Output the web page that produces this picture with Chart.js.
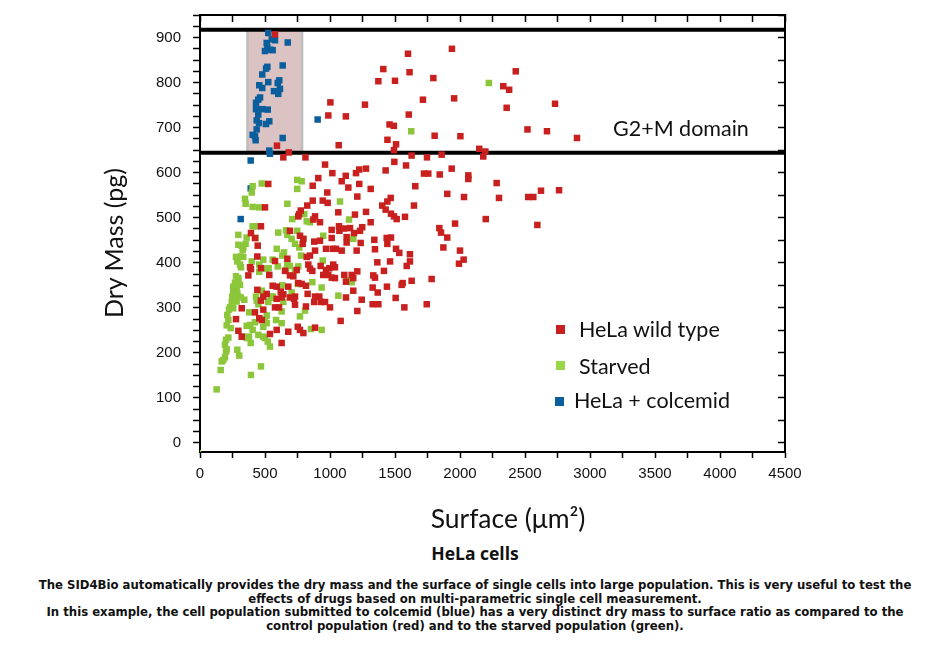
<!DOCTYPE html>
<html>
<head>
<meta charset="utf-8">
<script src="https://cdn.jsdelivr.net/npm/chart.js@4.4.1/dist/chart.umd.min.js"></script>
<style>
  body { margin: 0; background: #fff; width: 950px; height: 650px; overflow: hidden; position: relative; }
  #wrap { position: absolute; left: 0; top: 0; width: 950px; height: 540px; }
  .txt { position: absolute; font-family: Lato, "Open Sans", sans-serif; font-size: 21.5px; line-height: 26px; color: #111; white-space: nowrap; }
  .sq { position: absolute; width: 9px; height: 9px; }
  .axt { position: absolute; width: 300px; height: 30px; line-height: 30px; text-align: center; font-family: Lato, "Open Sans", sans-serif; color: #111; white-space: nowrap; }
  #ytitle { left: -37px; top: 228px; font-size: 25px; transform: rotate(-90deg); }
  #xtitle { left: 358px; top: 503px; font-size: 26.5px; }
  #title { position: absolute; left: 0; width: 950px; top: 543px; text-align: center; font-family: "Open Sans", sans-serif; font-weight: 700; font-size: 17.5px; line-height: 20px; color: #111; }
  #caption { position: absolute; left: 0; width: 950px; top: 578px; text-align: center; font-family: "DejaVu Sans Condensed", "DejaVu Sans", sans-serif; font-weight: 700; font-size: 13px; line-height: 13.7px; color: #111; }
</style>
</head>
<body>
<div id="wrap"><canvas id="chart"></canvas></div>

<div class="axt" id="ytitle">Dry Mass (pg)</div>
<div class="axt" id="xtitle">Surface (μm²)</div>

<div class="sq" style="left:556px;top:325px;background:#c8201e"></div>
<div class="txt" style="left:579px;top:316px">HeLa wild type</div>
<div class="sq" style="left:556px;top:361px;background:#98d848"></div>
<div class="txt" style="left:579px;top:353px">Starved</div>
<div class="sq" style="left:555px;top:397px;background:#0b5e9c"></div>
<div class="txt" style="left:574px;top:387px">HeLa + colcemid</div>
<div class="txt" style="left:613px;top:115px">G2+M domain</div>

<div id="title">HeLa cells</div>
<div id="caption">The SID4Bio automatically provides the dry mass and the surface of single cells into large population. This is very useful to test the<br>effects of drugs based on multi-parametric single cell measurement.<br>In this example, the cell population submitted to colcemid (blue) has a very distinct dry mass to surface ratio as compared to the<br>control population (red) and to the starved population (green).</div>

<script>
// tick labels
const xTickLabels = [0, 500, 1000, 1500, 2000, 2500, 3000, 3500, 4000, 4500];
const yTickLabels = [0, 100, 200, 300, 400, 500, 600, 700, 800, 900];

// G2+M domain (dry mass limits) and the colcemid box (surface limits)
const domainMass = [644, 917];
const boxSurface = [365, 785];

// [surface, dry mass]
const wildType = [
  [577,907],[1600,864],[1938,875],[1410,830],[1612,823],[2429,825],[1372,803],[1500,804],[1795,810],[2333,792],
  [2378,784],[1003,756],[1269,751],[1715,762],[1955,765],[2359,744],[2731,753],[987,727],[1122,725],[1606,729],
  [1458,707],[1491,704],[1805,682],[2003,681],[2519,696],[2669,692],[2900,677],[1442,673],[1508,663],[1492,650],
  [1067,661],[592,660],[683,645],[641,634],[811,634],[1628,638],[1746,634],[1859,640],[2148,653],[2195,647],[2179,636],
  [1495,624],[1585,616],[1428,605],[1277,609],[1225,607],[1200,599],[1723,598],[1756,598],[1844,596],[1936,609],
  [2064,594],[2064,586],[2282,577],[1225,575],[1313,564],[1656,570],[1210,547],[1902,553],[2031,546],[2300,544],
  [1467,544],[1441,536],[1402,527],[1428,518],[1646,527],[1277,513],[1469,509],[1492,503],[1513,497],[1577,502],
  [1313,490],[1248,479],[1231,471],[1192,507],[1841,477],[1854,467],[1962,487],[2198,497],[1902,456],[1872,434],
  [2000,427],[2028,407],[1992,398],[1436,455],[1469,456],[1341,451],[1236,444],[1441,442],[1508,431],[1533,422],
  [1346,430],[1205,427],[1615,419],[1615,403],[1590,393],[1462,403],[1364,401],[1415,382],[1210,381],[1333,372],
  [1346,367],[1559,355],[1551,351],[1628,360],[1782,364],[1328,345],[1367,334],[1438,347],[1505,322],[1244,318],
  [1744,308],[1572,301],[1372,308],[1328,308],[1210,293],[1082,271],[1123,323],[1179,338],
  [2525,546],[2564,546],[2623,560],[2762,561],[2595,484],
  [962,618],[1018,599],[910,588],[867,571],[1121,593],[1090,581],[1141,567],[979,556],[525,575],[867,538],
  [944,538],[982,533],[825,527],[775,516],[762,508],[756,503],[885,503],[872,496],[923,490],[1064,512],
  [500,523],[469,481],[392,466],[423,455],[444,438],[692,471],[769,460],[795,453],[879,447],[923,449],
  [1013,473],[1069,481],[1072,471],[1128,457],[1108,476],[1154,477],[1185,466],[1013,455],[790,442],[969,431],
  [1021,431],[1046,431],[1090,427],[1128,445],[885,427],[821,413],[846,416],[833,396],[672,409],[577,404],
  [441,414],[385,390],[392,386],[469,388],[533,373],[372,372],[744,384],[654,382],[846,387],[864,382],
  [928,393],[969,384],[995,388],[1025,396],[1038,390],[948,373],[987,373],[1013,367],[1110,373],[1038,366],
  [1167,373],[1179,366],[692,372],[718,370],[756,355],[782,353],[559,349],[590,347],[621,336],[641,330],
  [441,340],[513,331],[679,347],[815,349],[828,331],[885,325],[731,325],[1123,358],
  [277,275],[321,299],[423,290],[487,296],[456,277],[475,273],[469,316],[487,325],[590,320],[628,323],
  [608,301],[577,301],[692,323],[723,320],[731,307],[815,303],[879,313],[931,313],[962,313],[1000,301],
  [918,325],[752,258],[769,251],[795,244],[590,251],[679,247],[295,249],[538,242],[321,236],[885,256],[628,222]
];

const starved = [
  [2222,799],[1625,692],[475,576],[405,570],[398,556],[748,584],[782,581],[748,564],[346,542],[351,531],
  [405,524],[456,523],[672,531],[1077,536],[710,497],[802,508],[821,492],[846,490],[1146,496],[405,481],
  [436,481],[295,462],[359,456],[428,455],[602,467],[662,472],[672,462],[748,471],[705,453],[795,453],
  [948,460],[1179,453],[295,440],[321,438],[333,434],[351,442],[328,429],[731,442],[764,434],[590,431],
  [646,423],[633,416],[777,416],[277,413],[315,414],[333,413],[287,403],[308,396],[315,390],[398,403],
  [456,396],[487,407],[559,407],[598,392],[508,387],[528,388],[456,380],[672,396],[692,393],[662,384],
  [756,392],[731,383],[944,405],[277,370],[295,366],[269,356],[295,358],[308,351],[256,347],[282,346],
  [256,336],[287,333],[248,325],[295,325],[313,323],[633,350],[752,353],[864,357],[936,345],[705,334],
  [559,325],[544,325],[431,325],[475,338],[1064,327],[1128,361],[1167,357],[282,314],[244,313],[341,318],
  [231,301],[223,296],[256,299],[210,284],[218,273],[205,261],[236,255],[379,290],[436,316],[449,308],
  [525,313],[546,322],[628,292],[641,313],[513,283],[500,273],[513,266],[487,258],[423,268],[385,262],
  [359,260],[405,251],[585,273],[628,266],[769,281],[808,294],[854,253],[936,251],[218,234],[200,229],
  [192,218],[205,208],[200,203],[333,236],[359,233],[377,236],[390,222],[449,240],[487,236],[500,233],
  [538,214],[521,225],[287,207],[302,194],[192,190],[179,184],[167,181],[159,162],[469,170],[392,151],
  [128,119],[0,-18]
];

const colcemid = [
  [525,910],[552,896],[577,894],[675,889],[513,888],[518,879],[538,873],[500,870],[559,872],[518,835],
  [508,831],[636,838],[479,818],[610,805],[598,799],[525,801],[456,794],[479,788],[615,786],[569,781],
  [602,775],[462,767],[448,762],[431,755],[431,741],[479,741],[521,740],[448,729],[436,716],[454,710],
  [533,714],[508,708],[436,696],[405,684],[423,681],[428,672],[636,677],[533,649],[538,642],[905,718],
  [390,627],[390,565],[313,497]
];

const xMinor = [];
xTickLabels.forEach((v, i) => { xMinor.push(v); if (i < xTickLabels.length - 1) xMinor.push(v + 250); });
const yMinor = [];
for (let v = 0; v <= 950; v += 25) yMinor.push(v);
const yRight = yMinor.filter(v => v % 50 === 0);

const toPts = arr => arr.map(p => ({ x: p[0], y: p[1] }));
const tickFont = { family: '"Liberation Sans", Arial, sans-serif', size: 15 };

const boxPlugin = {
  id: 'g2mBox',
  beforeDatasetsDraw(chart) {
    const { ctx, scales: { x, y } } = chart;
    const l = x.getPixelForValue(boxSurface[0]);
    const r = x.getPixelForValue(boxSurface[1]);
    const t = y.getPixelForValue(domainMass[1]);
    const b = y.getPixelForValue(domainMass[0]);
    ctx.save();
    ctx.fillStyle = '#dcc3c3';
    ctx.fillRect(l, t, r - l, b - t);
    ctx.strokeStyle = '#bdbdbd';
    ctx.lineWidth = 2.5;
    ctx.strokeRect(l, t, r - l, b - t);
    ctx.restore();
  }
};

const hLine = v => ({
  type: 'line',
  data: [{ x: 0, y: v }, { x: 4500, y: v }],
  borderColor: '#000', borderWidth: 4, pointRadius: 0, order: 5
});

const scatterSet = (data, color) => ({
  data: toPts(data),
  backgroundColor: color,
  borderWidth: 0,
  pointStyle: 'rect',
  pointRadius: c => (c.raw && c.raw.y < 0 ? 1.8 : 4.6),
  order: 1
});

new Chart(document.getElementById('chart'), {
  type: 'scatter',
  data: {
    datasets: [
      hLine(domainMass[0]),
      hLine(domainMass[1]),
      scatterSet(wildType, '#c8201e'),
      scatterSet(starved, '#8cc63a'),
      scatterSet(colcemid, '#0b5e9c')
    ]
  },
  plugins: [boxPlugin],
  options: {
    responsive: true,
    maintainAspectRatio: false,
    animation: false,
    devicePixelRatio: 1,
    events: [],
    layout: { autoPadding: false, padding: { left: 88, right: 165, top: 15, bottom: 0 } },
    plugins: { legend: { display: false }, tooltip: { enabled: false } },
    scales: {
      x: {
        type: 'linear', position: 'bottom', min: 0, max: 4500,
        afterBuildTicks: s => { s.ticks = xMinor.map(v => ({ value: v })); },
        afterFit: s => { s.height = 88; },
        ticks: { autoSkip: false, maxRotation: 0, font: tickFont, color: '#111', padding: 7,
                 callback: v => (xTickLabels.includes(v) ? String(v) : '') },
        grid: { drawOnChartArea: false, tickLength: 6, tickColor: '#000', tickWidth: 1.5 },
        border: { color: '#000', width: 2 }
      },
      y: {
        type: 'linear', position: 'left', min: -20, max: 950,
        afterBuildTicks: s => { s.ticks = yMinor.map(v => ({ value: v })); },
        afterFit: s => { s.width = 112; s.paddingTop = 0; s.paddingBottom = 0; },
        ticks: { autoSkip: false, font: tickFont, color: '#111', padding: 12,
                 callback: v => (yTickLabels.includes(v) ? String(v) : '') },
        grid: { drawOnChartArea: false, tickLength: 7, tickColor: '#000', tickWidth: 1.5 },
        border: { color: '#000', width: 2 }
      },
      x2: {
        type: 'linear', axis: 'x', position: 'top', min: 0, max: 4500,
        afterBuildTicks: s => { s.ticks = xMinor.map(v => ({ value: v })); },
        afterFit: s => { s.height = 0; },
        ticks: { display: false },
        grid: { drawOnChartArea: false, tickLength: -7, tickColor: '#000', tickWidth: 1.5 },
        border: { color: '#000', width: 2 }
      },
      y2: {
        type: 'linear', axis: 'y', position: 'right', min: -20, max: 950,
        afterBuildTicks: s => { s.ticks = yRight.map(v => ({ value: v })); },
        afterFit: s => { s.width = 0; s.paddingTop = 0; s.paddingBottom = 0; },
        ticks: { display: false },
        grid: { drawOnChartArea: false, tickLength: -7, tickColor: '#000', tickWidth: 1.5 },
        border: { color: '#000', width: 2 }
      }
    }
  }
});
</script>
</body>
</html>
